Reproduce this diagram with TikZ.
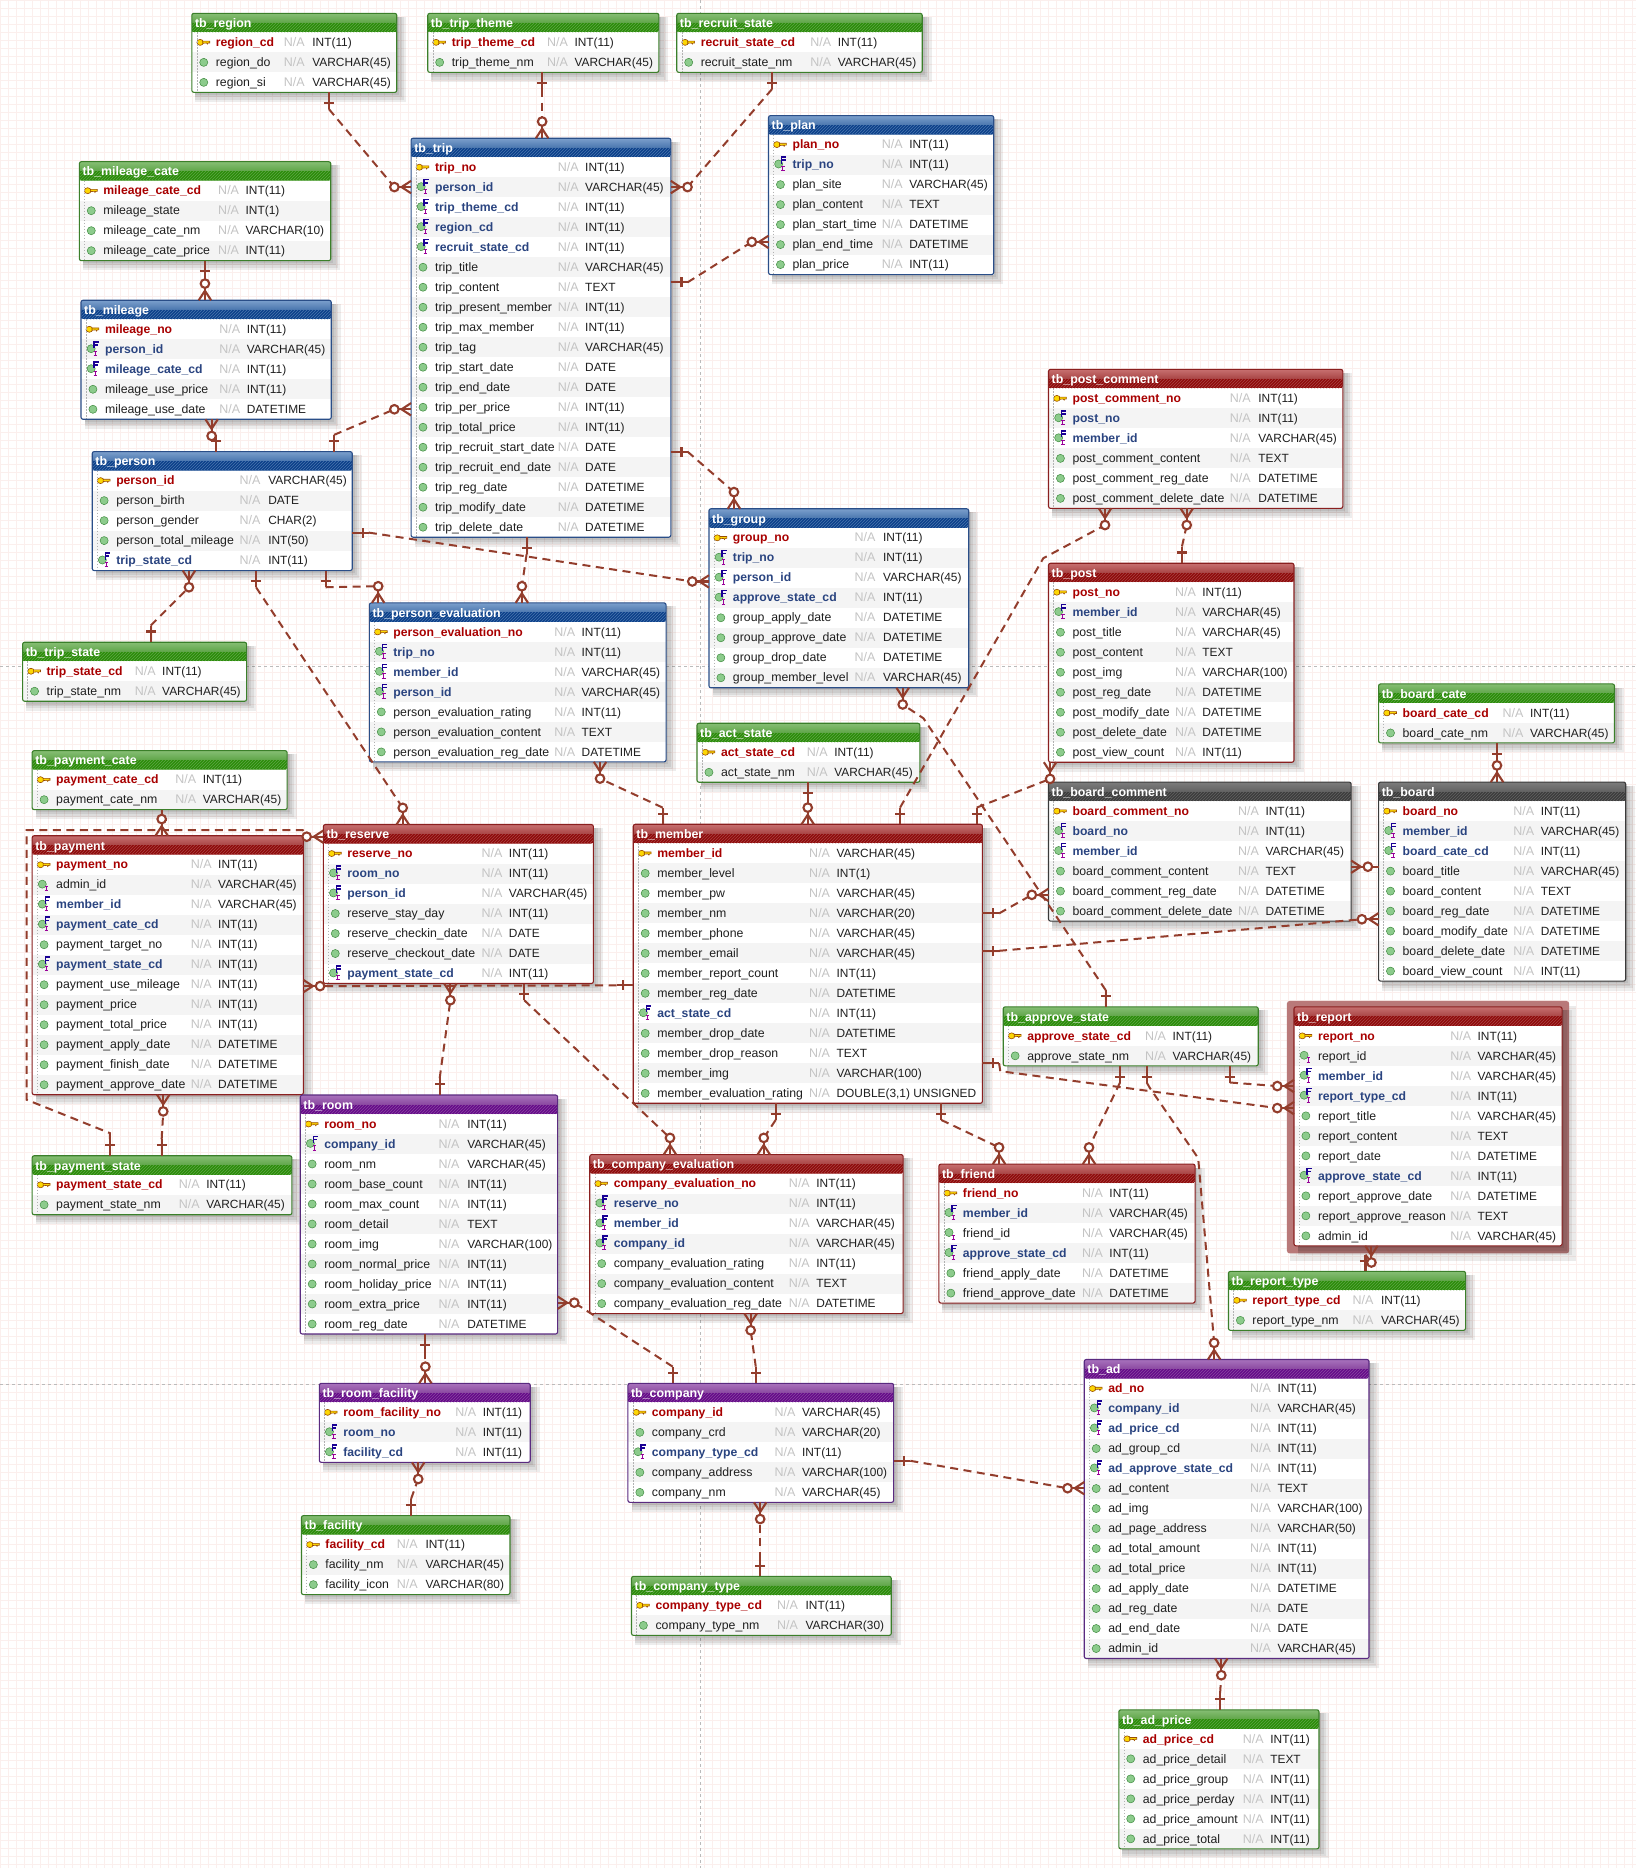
\documentclass[tikz,border=0pt]{standalone}
\usepackage{fontspec}
\setmainfont{Liberation Sans}
\usetikzlibrary{calc,patterns}
\catcode`\_=12
\definecolor{relc}{HTML}{933D2C}
\definecolor{gridc}{HTML}{FBEFED}
\definecolor{pageln}{HTML}{BBBBBB}
\definecolor{pkc}{HTML}{A80000}
\definecolor{fkc}{HTML}{2A4480}
\definecolor{nac}{HTML}{C4C4C4}
\definecolor{rowalt}{HTML}{F4F4F4}
\definecolor{hdAg}{HTML}{86BE74}\definecolor{hdBg}{HTML}{5FA548}\definecolor{hdCg}{HTML}{2A8C08}\definecolor{brg}{HTML}{3B7F2A}
\definecolor{hdAb}{HTML}{7B9FCC}\definecolor{hdBb}{HTML}{4A76AE}\definecolor{hdCb}{HTML}{0B3F8A}\definecolor{brb}{HTML}{2A4E88}
\definecolor{hdAr}{HTML}{C77070}\definecolor{hdBr}{HTML}{A84444}\definecolor{hdCr}{HTML}{8E0A0A}\definecolor{brr}{HTML}{8A1F1F}
\definecolor{hdAp}{HTML}{A872BC}\definecolor{hdBp}{HTML}{8A48A0}\definecolor{hdCp}{HTML}{650A8A}\definecolor{brp}{HTML}{5A2A80}
\definecolor{hdAd}{HTML}{7C7C7C}\definecolor{hdBd}{HTML}{626262}\definecolor{hdCd}{HTML}{3C3C3C}\definecolor{brd}{HTML}{3A3A3A}
\tikzset{
  x=1.1915pt,y=-1.1915pt,
  reldash/.style={draw=relc,line width=2pt,dash pattern=on 8pt off 5.5pt},
  relsolid/.style={draw=relc,line width=2.1pt},
  rowname/.style={anchor=base west,inner sep=0pt,font=\fontsize{12.3}{14}\selectfont,text=black!88},
  rowpk/.style={rowname,font=\fontsize{12.2}{14}\bfseries\selectfont,text=pkc},
  rowfk/.style={rowname,font=\fontsize{12.2}{14}\bfseries\selectfont,text=fkc},
  rowna/.style={anchor=base west,inner sep=0pt,font=\fontsize{12.5}{14}\selectfont,text=nac},
  rowtype/.style={anchor=base west,inner sep=0pt,font=\fontsize{11.9}{14}\selectfont,text=black!88},
  tabtitle/.style={anchor=base west,inner sep=0pt,font=\fontsize{12.4}{14}\bfseries\selectfont,text=white},
  tabbody/.style={anchor=north west,inner sep=0pt,outer sep=0pt,fill=white,rectangle},
}
\newcommand\icN[1]{\fill[fill=black!45!green!45!white,draw=black!40!green!50!gray,line width=.5pt] (#1) circle[radius=3.4];}
\newcommand\icI[1]{\begin{scope}[shift={(#1)}]
 \fill[fill=black!45!green!45!white,draw=black!40!green!50!gray,line width=.5pt] (-1.5,-.5) circle[radius=3.4];
 \draw[line width=.9pt,draw=violet!80!magenta] (.6,1.6)--(3.6,1.6) (2.1,1.6)--(2.1,5.2) (.6,5.2)--(3.6,5.2);
\end{scope}}
\newcommand\icF[1]{\begin{scope}[shift={(#1)}]
 \fill[fill=black!45!green!45!white,draw=black!40!green!50!gray,line width=.5pt] (-1.5,-.5) circle[radius=3.4];
 \draw[line width=1.5pt,draw=blue!60!black!80!violet] (1,-.8)--(1,-6.3)--(5,-6.3) (1,-3.7)--(4.4,-3.7);
 \draw[line width=.9pt,draw=violet!80!magenta] (.6,1.6)--(3.6,1.6) (2.1,1.6)--(2.1,5.2) (.6,5.2)--(3.6,5.2);
\end{scope}}
\newcommand\icP[1]{\begin{scope}[shift={(#1)}]
 \fill[fill=yellow!75!orange,draw=orange!60!black,line width=.6pt] (-3,0) circle[x radius=2.8,y radius=2.5];
 \fill[fill=yellow!75!orange,draw=orange!60!black,line width=.6pt] (-.8,-1.1)--(5,-1.1)--(5,.5)--(3.6,.5)--(3.1,1.5)--(2.4,.5)--(-.8,.8)--cycle;
\end{scope}}
% name, colour key, left, top, right, N/A x, type x, number of rows, rows
\newcommand\tbl[9]{%
 \pgfmathsetmacro\tbot{#4+15.95+#8*16.785}%
 \pgfmathsetmacro\twd{(#5-#3)*1.1915}%
 \pgfmathsetmacro\tht{(\tbot-#4)*1.1915}%
 \foreach \o in {2,4,6,8}{\fill[black,opacity=.07] (#3+3,#4+3) rectangle (#5+\o,\tbot+\o);}
 \node[tabbody,minimum width=\twd pt,minimum height=\tht pt] (#1) at (#3,#4) {};
 \foreach \k/\n/\t [count=\ri from 0] in {#9}{%
  \pgfmathsetmacro\ry{#4+15.95+\ri*16.785}%
  \pgfmathparse{int(mod(\ri,2))}%
  \ifnum\pgfmathresult=1 \fill[rowalt] (#3,\ry) rectangle (#5,\ry+16.785);\fi
  \csname ic\k\endcsname{#3+10,\ry+8.4}%
  \if\k P\node[rowpk] (#1-n\ri) at (#3+20,\ry+11.9) {\n};\else
  \if\k F\node[rowfk] (#1-n\ri) at (#3+20,\ry+11.9) {\n};\else
  \node[rowname] (#1-n\ri) at (#3+20,\ry+11.9) {\n};\fi\fi
  \node[rowna] (#1-a\ri) at (#6,\ry+11.9) {N/A};
  \node[rowtype] (#1-t\ri) at (#7,\ry+11.9) {\t};
 }
 \draw[black!30,line width=.6pt,dash pattern=on 1.5pt off 1.5pt] (#3+4.3,#4+16) -- (#3+4.3,\tbot);
 \begin{scope}
  \clip[rounded corners=2pt] (#1.north west) rectangle (#5,#4+15.95);
  \shade[top color=hdA#2,bottom color=hdB#2] (#3,#4) rectangle (#5,#4+8);
  \fill[hdC#2] (#3,#4+8) rectangle (#5,#4+15.95);
  \fill[pattern=north east lines,pattern color=hdB#2] (#3,#4+8) rectangle (#5,#4+15.95);
 \end{scope}
 \node[tabtitle] (#1-title) at (#3+2.5,#4+12) {#1};
 \draw[br#2,line width=1.1pt,rounded corners=2pt] (#1.north west) rectangle (#1.south east);
}
% one end, its direction, many end, its direction, via points
\newcommand\erlink[5]{%
 \coordinate (ea) at (#1); \coordinate (eb) at (#3);
 \coordinate (ea1) at ($(ea)+(#2:14)$);
 \coordinate (eb1) at ($(eb)+(#4:14)$);
 \draw[reldash] (ea1) -- #5 (eb1);
 \draw[relsolid] (ea) -- (ea1);
 \draw[relsolid] ($(ea)+(#2:9)+(#2+90:4.2)$) -- ($(ea)+(#2:9)+(#2-90:4.2)$);
 \draw[relsolid] (eb) -- (eb1);
 \draw[relsolid] ($(eb)+(#4+90:5.2)$) -- ($(eb)+(#4:8)$) -- ($(eb)+(#4-90:5.2)$);
 \draw[relsolid,fill=white] (eb1) circle[radius=3.6];
}
\begin{document}
\begin{tikzpicture}
\useasboundingbox (0,0) rectangle (1373.06,1567.77);
\fill[white] (0,0) rectangle (1373.06,1567.77);
\foreach \i in {0,...,204}{\draw[gridc,line width=.9pt] (\i*6.7142,0) -- (\i*6.7142,1567.77);}
\foreach \i in {0,...,233}{\draw[gridc,line width=.9pt] (0,\i*6.7142) -- (1373.06,\i*6.7142);}
\draw[pageln,line width=.8pt,dashed] (587.9,0) -- (587.9,1567.77);
\draw[pageln,line width=.8pt,dashed] (0,559.6) -- (1373.06,559.6);
\draw[pageln,line width=.8pt,dashed] (0,1162) -- (1373.06,1162);
\fill[black,opacity=.08] (1083,844) rectangle (1323,1058);
\fill[fill=brr!60!white,rounded corners=3pt] (1080,840) rectangle (1317,1052);

\tbl{tb_region}{g}{161}{11.2}{333}{238}{262}{3}{P/region_cd/INT(11),N/region_do/VARCHAR(45),N/region_si/VARCHAR(45)}
\tbl{tb_trip_theme}{g}{359}{11.2}{553}{459}{482}{2}{P/trip_theme_cd/INT(11),N/trip_theme_nm/VARCHAR(45)}
\tbl{tb_recruit_state}{g}{568}{11.2}{774}{680}{703}{2}{P/recruit_state_cd/INT(11),N/recruit_state_nm/VARCHAR(45)}
\tbl{tb_mileage_cate}{g}{66.6}{135.7}{277.6}{183}{206}{4}{P/mileage_cate_cd/INT(11),N/mileage_state/INT(1),N/mileage_cate_nm/VARCHAR(10),N/mileage_cate_price/INT(11)}
\tbl{tb_trip}{b}{345}{116}{563}{468}{491}{19}{P/trip_no/INT(11),F/person_id/VARCHAR(45),F/trip_theme_cd/INT(11),F/region_cd/INT(11),F/recruit_state_cd/INT(11),N/trip_title/VARCHAR(45),N/trip_content/TEXT,N/trip_present_member/INT(11),N/trip_max_member/INT(11),N/trip_tag/VARCHAR(45),N/trip_start_date/DATE,N/trip_end_date/DATE,N/trip_per_price/INT(11),N/trip_total_price/INT(11),N/trip_recruit_start_date/DATE,N/trip_recruit_end_date/DATE,N/trip_reg_date/DATETIME,N/trip_modify_date/DATETIME,N/trip_delete_date/DATETIME}
\tbl{tb_plan}{b}{645}{97}{834}{740}{763}{7}{P/plan_no/INT(11),F/trip_no/INT(11),N/plan_site/VARCHAR(45),N/plan_content/TEXT,N/plan_start_time/DATETIME,N/plan_end_time/DATETIME,N/plan_price/INT(11)}
\tbl{tb_mileage}{b}{68}{252}{278}{184}{207}{5}{P/mileage_no/INT(11),F/person_id/VARCHAR(45),F/mileage_cate_cd/INT(11),N/mileage_use_price/INT(11),N/mileage_use_date/DATETIME}
\tbl{tb_person}{b}{77.4}{379}{295.6}{201}{225}{5}{P/person_id/VARCHAR(45),N/person_birth/DATE,N/person_gender/CHAR(2),N/person_total_mileage/INT(50),F/trip_state_cd/INT(11)}
\tbl{tb_post_comment}{r}{880}{310}{1127}{1032}{1056}{6}{P/post_comment_no/INT(11),F/post_no/INT(11),F/member_id/VARCHAR(45),N/post_comment_content/TEXT,N/post_comment_reg_date/DATETIME,N/post_comment_delete_date/DATETIME}
\tbl{tb_post}{r}{880}{472.7}{1086}{986}{1009}{9}{P/post_no/INT(11),F/member_id/VARCHAR(45),N/post_title/VARCHAR(45),N/post_content/TEXT,N/post_img/VARCHAR(100),N/post_reg_date/DATETIME,N/post_modify_date/DATETIME,N/post_delete_date/DATETIME,N/post_view_count/INT(11)}
\tbl{tb_group}{b}{595}{427}{813}{717}{741}{8}{P/group_no/INT(11),F/trip_no/INT(11),F/person_id/VARCHAR(45),F/approve_state_cd/INT(11),N/group_apply_date/DATETIME,N/group_approve_date/DATETIME,N/group_drop_date/DATETIME,N/group_member_level/VARCHAR(45)}
\tbl{tb_person_evaluation}{b}{310}{506}{559}{465}{488}{7}{P/person_evaluation_no/INT(11),F/trip_no/INT(11),F/member_id/VARCHAR(45),F/person_id/VARCHAR(45),N/person_evaluation_rating/INT(11),N/person_evaluation_content/TEXT,N/person_evaluation_reg_date/DATETIME}
\tbl{tb_trip_state}{g}{19}{539}{207}{113}{136}{2}{P/trip_state_cd/INT(11),N/trip_state_nm/VARCHAR(45)}
\tbl{tb_act_state}{g}{585}{607}{772}{677}{700}{2}{P/act_state_cd/INT(11),N/act_state_nm/VARCHAR(45)}
\tbl{tb_board_cate}{g}{1157}{574}{1355}{1261}{1284}{2}{P/board_cate_cd/INT(11),N/board_cate_nm/VARCHAR(45)}
\tbl{tb_payment_cate}{g}{27}{630}{241}{147}{170}{2}{P/payment_cate_cd/INT(11),N/payment_cate_nm/VARCHAR(45)}
\tbl{tb_board_comment}{d}{880}{656.4}{1134}{1039}{1062}{6}{P/board_comment_no/INT(11),F/board_no/INT(11),F/member_id/VARCHAR(45),N/board_comment_content/TEXT,N/board_comment_reg_date/DATETIME,N/board_comment_delete_date/DATETIME}
\tbl{tb_board}{d}{1157}{656.4}{1364.4}{1270}{1293}{9}{P/board_no/INT(11),F/member_id/VARCHAR(45),F/board_cate_cd/INT(11),N/board_title/VARCHAR(45),N/board_content/TEXT,N/board_reg_date/DATETIME,N/board_modify_date/DATETIME,N/board_delete_date/DATETIME,N/board_view_count/INT(11)}
\tbl{tb_reserve}{r}{271.4}{692}{498}{404}{427}{7}{P/reserve_no/INT(11),F/room_no/INT(11),F/person_id/VARCHAR(45),N/reserve_stay_day/INT(11),N/reserve_checkin_date/DATE,N/reserve_checkout_date/DATE,F/payment_state_cd/INT(11)}
\tbl{tb_payment}{r}{27}{701.4}{254.6}{160}{183}{12}{P/payment_no/INT(11),I/admin_id/VARCHAR(45),F/member_id/VARCHAR(45),F/payment_cate_cd/INT(11),N/payment_target_no/INT(11),F/payment_state_cd/INT(11),N/payment_use_mileage/INT(11),N/payment_price/INT(11),N/payment_total_price/INT(11),N/payment_apply_date/DATETIME,N/payment_finish_date/DATETIME,N/payment_approve_date/DATETIME}
\tbl{tb_member}{r}{531.5}{691.8}{824.5}{679}{702}{13}{P/member_id/VARCHAR(45),N/member_level/INT(1),N/member_pw/VARCHAR(45),N/member_nm/VARCHAR(20),N/member_phone/VARCHAR(45),N/member_email/VARCHAR(45),N/member_report_count/INT(11),N/member_reg_date/DATETIME,F/act_state_cd/INT(11),N/member_drop_date/DATETIME,N/member_drop_reason/TEXT,N/member_img/VARCHAR(100),N/member_evaluation_rating/{DOUBLE(3,1) UNSIGNED}}
\tbl{tb_approve_state}{g}{842}{845}{1056}{961}{984}{2}{P/approve_state_cd/INT(11),N/approve_state_nm/VARCHAR(45)}
\tbl{tb_report}{r}{1086}{845}{1311}{1217}{1240}{11}{P/report_no/INT(11),I/report_id/VARCHAR(45),F/member_id/VARCHAR(45),F/report_type_cd/INT(11),N/report_title/VARCHAR(45),N/report_content/TEXT,N/report_date/DATETIME,F/approve_state_cd/INT(11),N/report_approve_date/DATETIME,N/report_approve_reason/TEXT,N/admin_id/VARCHAR(45)}
\tbl{tb_room}{p}{252}{919}{468}{368}{392}{11}{P/room_no/INT(11),F/company_id/VARCHAR(45),N/room_nm/VARCHAR(45),N/room_base_count/INT(11),N/room_max_count/INT(11),N/room_detail/TEXT,N/room_img/VARCHAR(100),N/room_normal_price/INT(11),N/room_holiday_price/INT(11),N/room_extra_price/INT(11),N/room_reg_date/DATETIME}
\tbl{tb_payment_state}{g}{27}{970}{245}{150}{173}{2}{P/payment_state_cd/INT(11),N/payment_state_nm/VARCHAR(45)}
\tbl{tb_company_evaluation}{r}{495}{969}{758}{662}{685}{7}{P/company_evaluation_no/INT(11),F/reserve_no/INT(11),F/member_id/VARCHAR(45),F/company_id/VARCHAR(45),N/company_evaluation_rating/INT(11),N/company_evaluation_content/TEXT,N/company_evaluation_reg_date/DATETIME}
\tbl{tb_friend}{r}{788}{977}{1003}{908}{931}{6}{P/friend_no/INT(11),F/member_id/VARCHAR(45),I/friend_id/VARCHAR(45),F/approve_state_cd/INT(11),N/friend_apply_date/DATETIME,N/friend_approve_date/DATETIME}
\tbl{tb_report_type}{g}{1031}{1067}{1230}{1135}{1159}{2}{P/report_type_cd/INT(11),N/report_type_nm/VARCHAR(45)}
\tbl{tb_room_facility}{p}{268}{1161}{445}{382}{405}{3}{P/room_facility_no/INT(11),F/room_no/INT(11),F/facility_cd/INT(11)}
\tbl{tb_company}{p}{527}{1161}{750}{650}{673}{5}{P/company_id/VARCHAR(45),N/company_crd/VARCHAR(20),F/company_type_cd/INT(11),N/company_address/VARCHAR(100),N/company_nm/VARCHAR(45)}
\tbl{tb_ad}{p}{910}{1141}{1149}{1049}{1072}{14}{P/ad_no/INT(11),F/company_id/VARCHAR(45),F/ad_price_cd/INT(11),N/ad_group_cd/INT(11),F/ad_approve_state_cd/INT(11),N/ad_content/TEXT,N/ad_img/VARCHAR(100),N/ad_page_address/VARCHAR(50),N/ad_total_amount/INT(11),N/ad_total_price/INT(11),N/ad_apply_date/DATETIME,N/ad_reg_date/DATE,N/ad_end_date/DATE,N/admin_id/VARCHAR(45)}
\tbl{tb_facility}{g}{253}{1272}{428}{333}{357}{3}{P/facility_cd/INT(11),N/facility_nm/VARCHAR(45),N/facility_icon/VARCHAR(80)}
\tbl{tb_company_type}{g}{530}{1323}{748}{652}{676}{2}{P/company_type_cd/INT(11),N/company_type_nm/VARCHAR(30)}
\tbl{tb_ad_price}{g}{939}{1435}{1107}{1043}{1066}{6}{P/ad_price_cd/INT(11),N/ad_price_detail/TEXT,N/ad_price_group/INT(11),N/ad_price_perday/INT(11),N/ad_price_amount/INT(11),N/ad_price_total/INT(11)}

\erlink{tb_region.south -| 276,0}{90}{tb_trip.west |- 0,157}{180}{}
\erlink{tb_trip_theme.south -| 455,0}{90}{tb_trip.north -| 455,0}{270}{}
\erlink{tb_recruit_state.south -| 648,0}{90}{tb_trip.east |- 0,157}{0}{}
\erlink{tb_trip.east |- 0,237}{0}{tb_plan.west |- 0,203}{180}{}
\erlink{tb_mileage_cate.south -| 172,0}{90}{tb_mileage.north -| 172,0}{270}{}
\erlink{tb_person.north -| 181.3,0}{270}{tb_mileage.south -| 177.6,0}{90}{}
\erlink{tb_person.north -| 280.3,0}{270}{tb_trip.west |- 0,343.5}{180}{}
\erlink{tb_trip_state.north -| 126.5,0}{270}{tb_person.south -| 158.6,0}{90}{}
\erlink{tb_person.east |- 0,447}{0}{tb_group.west |- 0,488}{180}{}
\erlink{tb_person.south -| 273.3,0}{90}{tb_person_evaluation.north -| 317.4,0}{270}{}
\erlink{tb_person.south -| 214.9,0}{90}{tb_reserve.north -| 338,0}{270}{}
\erlink{tb_trip.south -| 442,0}{90}{tb_person_evaluation.north -| 438,0}{270}{}
\erlink{tb_trip.east |- 0,379}{0}{tb_group.north -| 616,0}{270}{}
\erlink{tb_approve_state.north -| 928,0}{270}{tb_group.south -| 757.6,0}{90}{(775,602.8) --}
\erlink{tb_member.north -| 755.4,0}{270}{tb_post_comment.south -| 927.4,0}{90}{(875.6,468.5) --}
\erlink{tb_post.north -| 992,0}{270}{tb_post_comment.south -| 996,0}{90}{}
\erlink{tb_member.north -| 819.7,0}{270}{tb_post.south -| 881.3,0}{90}{}
\erlink{tb_board_cate.south -| 1256.4,0}{90}{tb_board.north -| 1256.4,0}{270}{}
\erlink{tb_board.west |- 0,727.4}{180}{tb_board_comment.east |- 0,727.4}{0}{}
\erlink{tb_member.east |- 0,766.6}{0}{tb_board_comment.west |- 0,751}{180}{}
\erlink{tb_member.east |- 0,798}{0}{tb_board.west |- 0,771.5}{180}{}
\erlink{tb_act_state.south -| 677.9,0}{90}{tb_member.north -| 677.9,0}{270}{}
\erlink{tb_member.north -| 556.2,0}{270}{tb_person_evaluation.south -| 503.6,0}{90}{}
\erlink{tb_payment_cate.south -| 135.7,0}{90}{tb_payment.north -| 135.7,0}{270}{}
\erlink{tb_payment_state.north -| 92.3,0}{270}{tb_reserve.west |- 0,702.2}{180}{(92.3,951) -- (22.4,923) -- (22.4,696.6) -- (254,696.6) --}
\erlink{tb_payment_state.north -| 135.7,0}{270}{tb_payment.south -| 137,0}{90}{}
\erlink{tb_member.west |- 0,827}{180}{tb_payment.east |- 0,827.6}{0}{}
\erlink{tb_room.north -| 369,0}{270}{tb_reserve.south -| 378,0}{90}{}
\erlink{tb_reserve.south -| 440,0}{90}{tb_company_evaluation.north -| 562.3,0}{270}{}
\erlink{tb_member.south -| 651,0}{90}{tb_company_evaluation.north -| 641,0}{270}{}
\erlink{tb_member.south -| 790,0}{90}{tb_friend.north -| 838.5,0}{270}{}
\erlink{tb_member.east |- 0,892.3}{0}{tb_report.west |- 0,930}{180}{(839.5,899) --}
\erlink{tb_approve_state.south -| 1032.3,0}{90}{tb_report.west |- 0,911.5}{180}{}
\erlink{tb_approve_state.south -| 940,0}{90}{tb_friend.north -| 914,0}{270}{}
\erlink{tb_approve_state.south -| 962.4,0}{90}{tb_ad.north -| 1019,0}{270}{(965,913) -- (1005.6,972) -- (1007,988) --}
\erlink{tb_report_type.north -| 1146,0}{270}{tb_report.south -| 1151,0}{90}{}
\erlink{tb_room.south -| 357,0}{90}{tb_room_facility.north -| 357,0}{270}{}
\erlink{tb_facility.north -| 345,0}{270}{tb_room_facility.south -| 351,0}{90}{}
\erlink{tb_company.north -| 564.6,0}{270}{tb_room.east |- 0,1093.3}{0}{}
\erlink{tb_company.north -| 634.3,0}{270}{tb_company_evaluation.south -| 630,0}{90}{}
\erlink{tb_company.east |- 0,1226}{0}{tb_ad.west |- 0,1249}{180}{}
\erlink{tb_company_type.north -| 638,0}{270}{tb_company.south -| 638,0}{90}{}
\erlink{tb_ad_price.north -| 1024,0}{270}{tb_ad.south -| 1025,0}{90}{}
\end{tikzpicture}
\end{document}
